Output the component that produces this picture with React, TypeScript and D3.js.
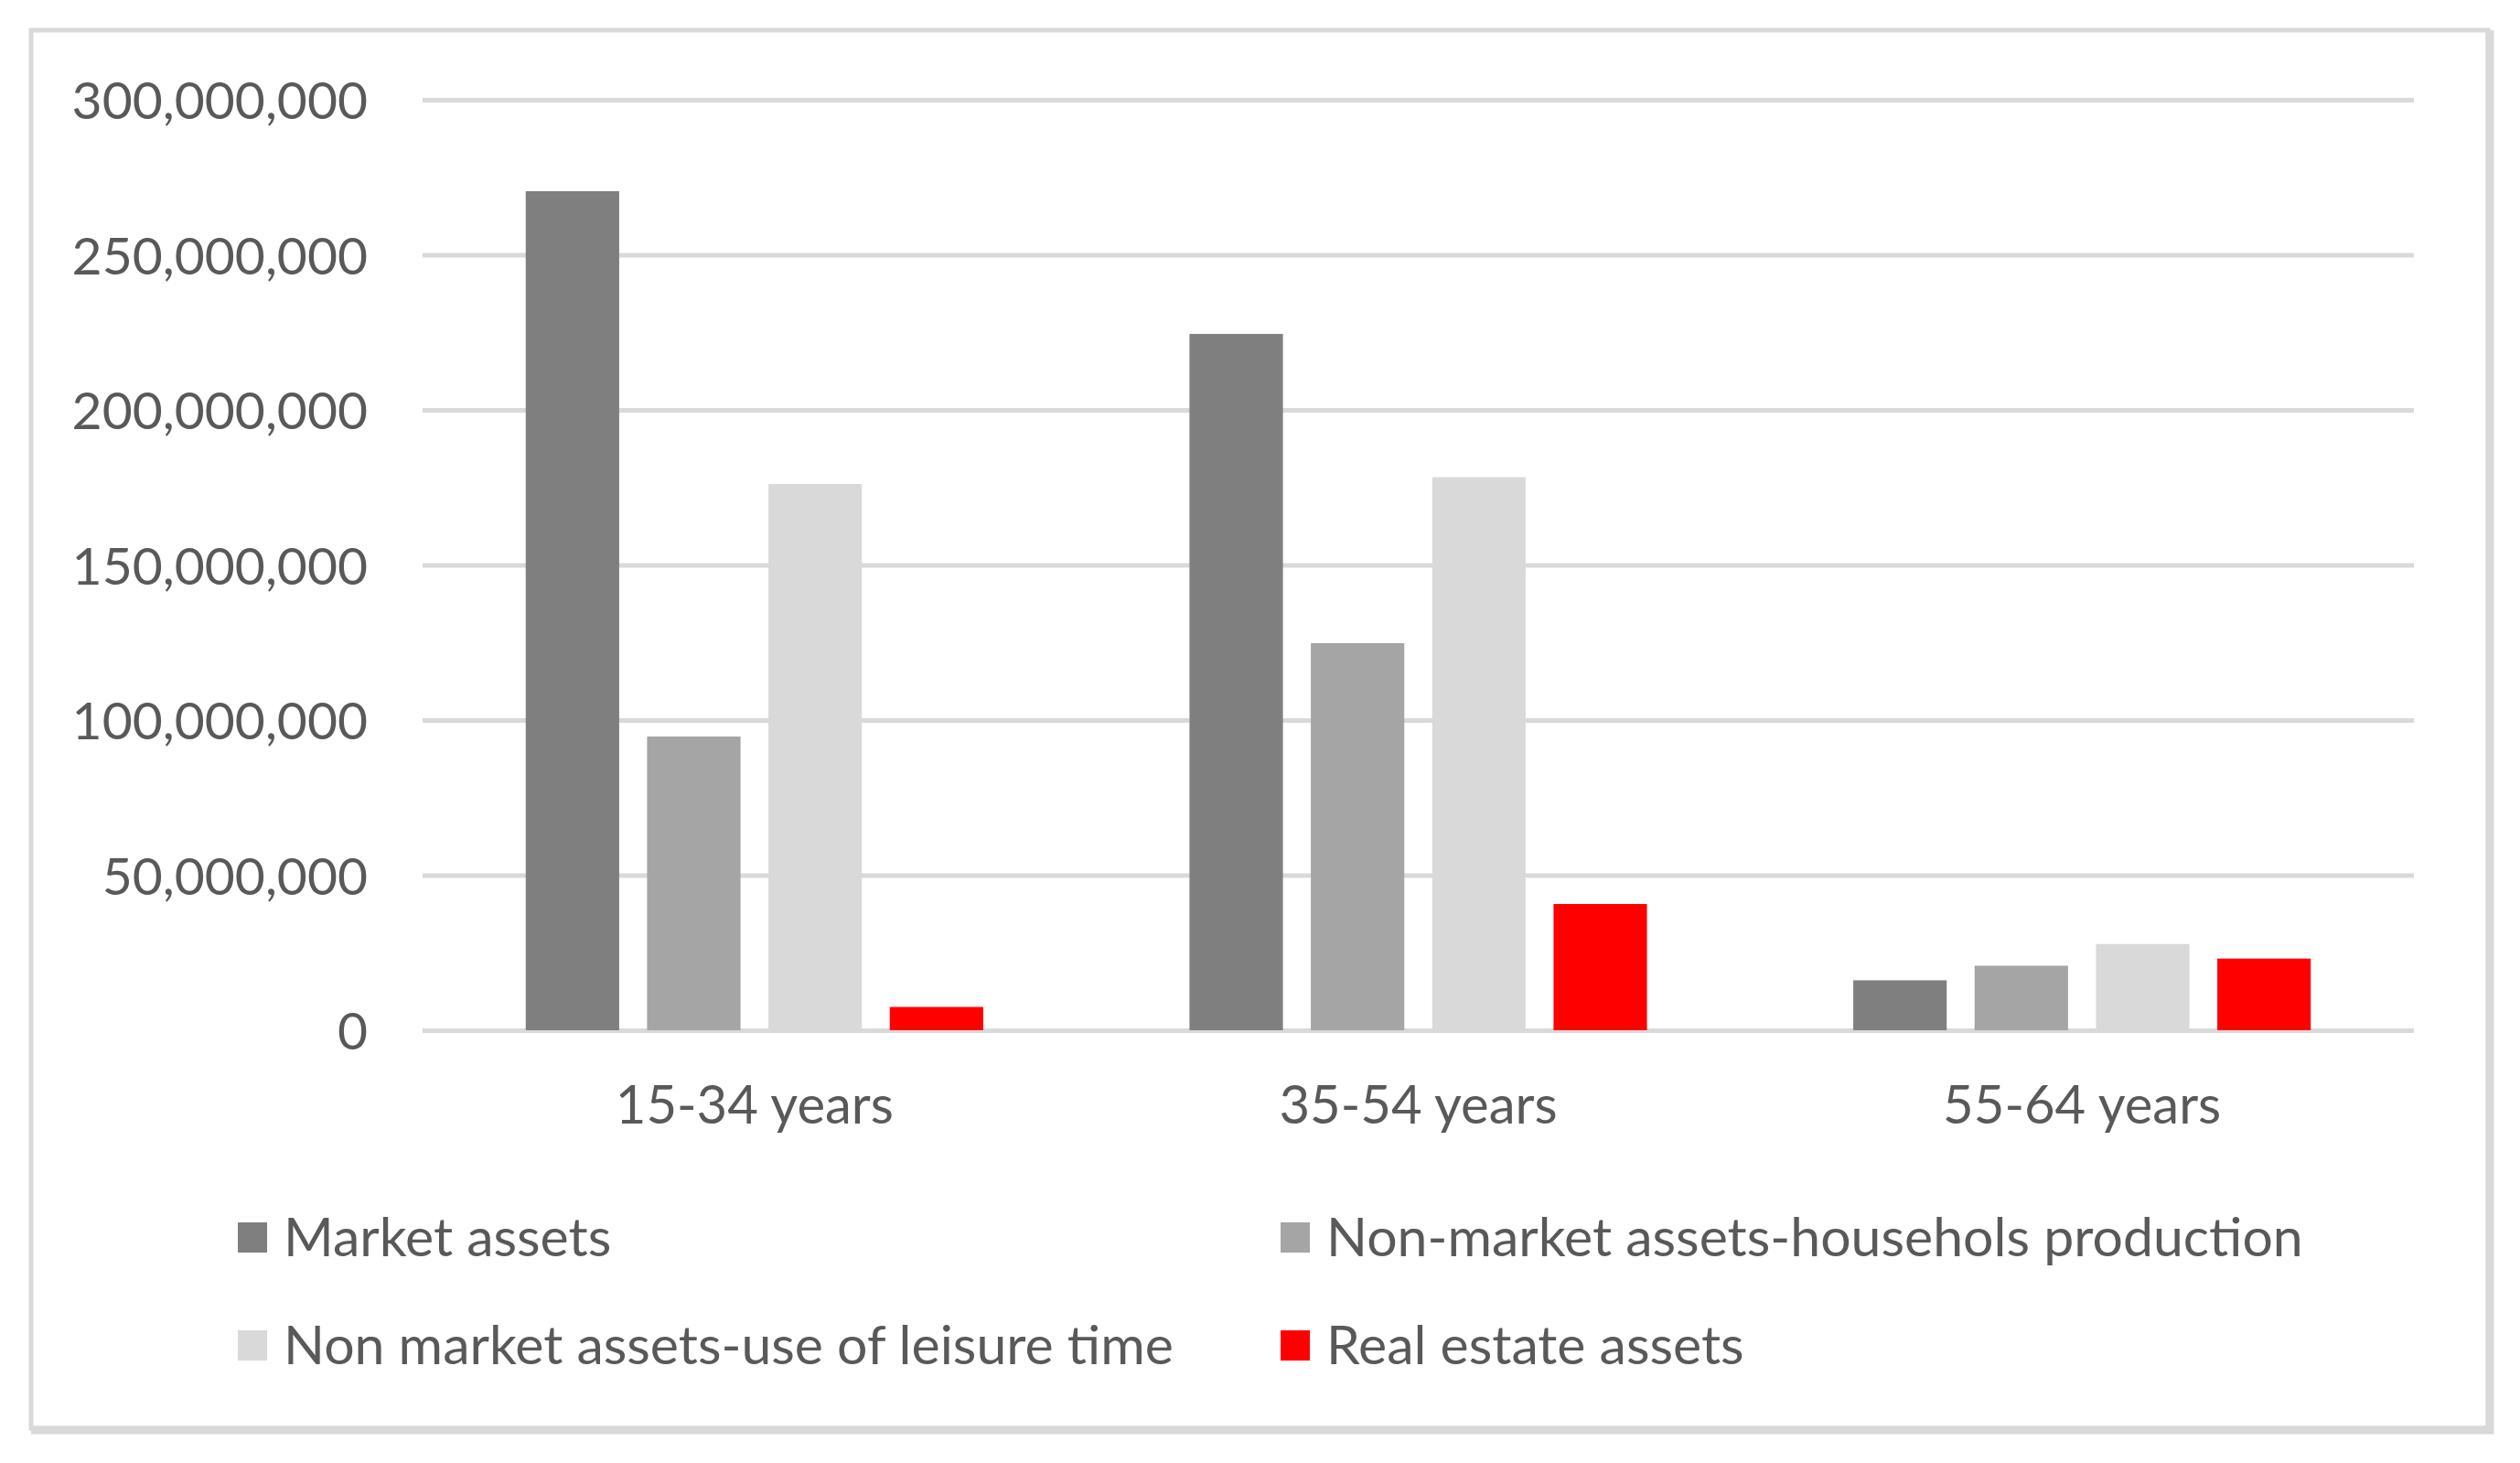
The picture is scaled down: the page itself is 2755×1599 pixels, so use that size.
import React, { useEffect, useRef } from 'react';
import * as d3 from 'd3';

const categories = ['15-34 years', '35-54 years', '55-64 years'];

const seriesNames = [
  'Market assets',
  'Non-market assets-househols production',
  'Non market assets-use of leisure time',
  'Real estate assets',
];

const seriesColors = ['#7f7f7f', '#a5a5a5', '#d9d9d9', '#ff0000'];

// values per age group, in series order
const marketAssets = [270500000, 224500000, 16100000];
const householdProduction = [94700000, 124800000, 20800000];
const leisureTime = [176100000, 178300000, 27800000];
const realEstate = [7500000, 40700000, 23100000];

const yTicks = [0, 50000000, 100000000, 150000000, 200000000, 250000000, 300000000];

interface Bar {
  category: string;
  series: string;
  value: number;
}

export default function App() {
  const ref = useRef<SVGSVGElement>(null);

  useEffect(() => {
    document.body.style.margin = '0';

    const width = 2755;
    const height = 1599;
    const plot = { left: 462, right: 2639, top: 109, bottom: 1126 };
    const font = 'Lato, "Open Sans", sans-serif';
    const textColor = '#595959';

    const svg = d3.select(ref.current);
    svg.selectAll('*').remove();

    svg
      .append('rect')
      .attr('width', width)
      .attr('height', height)
      .attr('fill', '#fff');

    // chart frame
    svg
      .append('rect')
      .attr('x', 34)
      .attr('y', 33)
      .attr('width', 2686)
      .attr('height', 1528)
      .attr('fill', '#fff')
      .attr('stroke', '#d9d9d9')
      .attr('stroke-width', 5);
    svg
      .append('path')
      .attr('d', 'M2722,33V1563H34')
      .attr('fill', 'none')
      .attr('stroke', '#d9d9d9')
      .attr('stroke-width', 9);

    const seriesValues = [marketAssets, householdProduction, leisureTime, realEstate];
    const bars: Bar[] = [];
    categories.forEach((c, ci) => {
      seriesNames.forEach((s, si) => {
        bars.push({ category: c, series: s, value: seriesValues[si][ci] });
      });
    });

    const x0 = d3
      .scaleBand()
      .domain(categories)
      .range([plot.left, plot.right])
      .padding(0);

    const x1 = d3
      .scaleBand()
      .domain(seriesNames)
      .range([0, x0.bandwidth()])
      .paddingInner(0.23)
      .paddingOuter(0.85);

    const y = d3
      .scaleLinear()
      .domain([0, 300000000])
      .range([plot.bottom, plot.top]);

    const color = d3.scaleOrdinal<string, string>().domain(seriesNames).range(seriesColors);

    const yAxis = d3
      .axisLeft(y)
      .tickValues(yTicks)
      .tickFormat((d) => d3.format(',')(d as number))
      .tickSize(-(plot.right - plot.left))
      .tickPadding(60);

    const yG = svg
      .append('g')
      .attr('transform', `translate(${plot.left}, 0)`)
      .call(yAxis);
    yG.select('.domain').remove();
    yG.selectAll('line').attr('stroke', '#d9d9d9').attr('stroke-width', 5);
    yG.selectAll('text')
      .attr('fill', textColor)
      .attr('font-family', font)
      .attr('font-size', 57)
      .attr('dy', '0.36em');

    svg
      .append('g')
      .selectAll('rect')
      .data(bars)
      .enter()
      .append('rect')
      .attr('x', (d) => (x0(d.category) as number) + (x1(d.series) as number))
      .attr('y', (d) => y(d.value))
      .attr('width', x1.bandwidth())
      .attr('height', (d) => y(0) - y(d.value))
      .attr('fill', (d) => color(d.series));

    const xAxis = d3.axisBottom(x0).tickSize(0);
    const xG = svg
      .append('g')
      .attr('transform', `translate(0, ${plot.bottom})`)
      .call(xAxis);
    xG.select('.domain').remove();
    xG.selectAll('text')
      .attr('fill', textColor)
      .attr('font-family', font)
      .attr('font-size', 58)
      .attr('y', 102)
      .attr('dy', 0);

    // legend, 2 x 2
    const legendX = [260, 1400];
    const legendY = [1353, 1471];
    const legend = svg
      .append('g')
      .selectAll('g')
      .data(seriesNames)
      .enter()
      .append('g')
      .attr(
        'transform',
        (d, i) => `translate(${legendX[i % 2]}, ${legendY[Math.floor(i / 2)]})`
      );

    legend
      .append('rect')
      .attr('x', 0)
      .attr('y', -17)
      .attr('width', 32)
      .attr('height', 33)
      .attr('fill', (d) => color(d));

    legend
      .append('text')
      .attr('x', 50)
      .attr('y', 20)
      .attr('fill', textColor)
      .attr('font-family', font)
      .attr('font-size', 59)
      .text((d) => d);
  }, []);

  return <svg ref={ref} width={2755} height={1599} style={{ display: 'block' }} />;
}
